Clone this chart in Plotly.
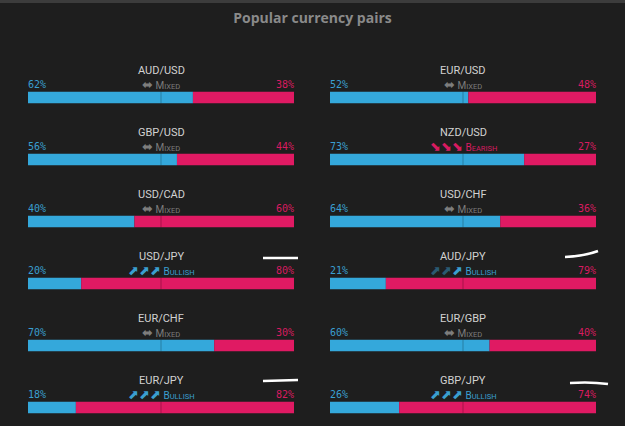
import plotly.graph_objects as go

W, H = 625, 426

pairs_left = ["AUD/USD", "GBP/USD", "USD/CAD", "USD/JPY", "EUR/CHF", "EUR/JPY"]
long_left = [62, 56, 40, 20, 70, 18]
sent_left = ["Mixed", "Mixed", "Mixed", "Bullish", "Mixed", "Bullish"]
strength_left = [0, 0, 0, 3, 0, 3]

pairs_right = ["EUR/USD", "NZD/USD", "USD/CHF", "AUD/JPY", "EUR/GBP", "GBP/JPY"]
long_right = [52, 73, 64, 21, 60, 26]
sent_right = ["Mixed", "Bearish", "Mixed", "Bullish", "Mixed", "Bullish"]
strength_right = [0, 3, 0, 1, 0, 3]

BLUE = "#34a8db"
PINK = "#e01a63"
BLUE_TXT = "#3a9fd0"
PINK_TXT = "#d81b60"
BG = "#1e1e1e"
ROW = 62.0
BW = 11.5 / ROW
FONT = "Roboto"

fig = go.Figure()
annotations = []
shapes = []

SMALL = 'style="font-size:7.5px"'
ARR = 'style="font-size:13px"'


def sentiment_text(s, strength):
    if s == "Mixed":
        return f'<span {ARR}>⬌</span> M<span {SMALL}>IXED</span>', "#7d7d7d"
    if s == "Bullish":
        dim = 3 - strength
        arr = ""
        if dim:
            arr += f'<span style="font-size:13px;color:#2a5a72">{"⬈" * dim}</span>'
        if strength:
            arr += f'<span {ARR}>{"⬈" * strength}</span>'
        return f'{arr} B<span {SMALL}>ULLISH</span>', BLUE_TXT
    arr = f'<span {ARR}>{"⬊" * strength}</span>'
    return f'{arr} B<span {SMALL}>EARISH</span>', PINK_TXT


for col, (pairs, longs, sents, strs) in enumerate([
    (pairs_left, long_left, sent_left, strength_left),
    (pairs_right, long_right, sent_right, strength_right),
]):
    xa = "x" if col == 0 else "x2"
    rows = list(range(len(pairs)))
    shorts = [100 - v for v in longs]
    fig.add_trace(go.Bar(x=longs, y=rows, base=[0] * len(rows), orientation="h",
                         marker=dict(color=BLUE, line=dict(width=0)), width=BW,
                         xaxis=xa, yaxis="y", hoverinfo="skip", showlegend=False))
    fig.add_trace(go.Bar(x=shorts, y=rows, base=longs, orientation="h",
                         marker=dict(color=PINK, line=dict(width=0)), width=BW,
                         xaxis=xa, yaxis="y", hoverinfo="skip", showlegend=False))
    for i, (p, l, s, st) in enumerate(zip(pairs, longs, sents, strs)):
        annotations.append(dict(x=50, y=i - 27.5 / ROW, xref=xa, yref="y", text=p,
                                showarrow=False, xanchor="center", yanchor="middle",
                                font=dict(family=FONT, size=11, color="#d2d2d2")))
        annotations.append(dict(x=0, y=i - 13.5 / ROW, xref=xa, yref="y", text=f"{l}%",
                                showarrow=False, xanchor="left", yanchor="middle", xshift=-2,
                                font=dict(family="DejaVu Sans Mono", size=10, color=BLUE_TXT)))
        annotations.append(dict(x=100, y=i - 13.5 / ROW, xref=xa, yref="y", text=f"{100 - l}%",
                                showarrow=False, xanchor="right", yanchor="middle", xshift=2,
                                font=dict(family="DejaVu Sans Mono", size=10, color=PINK_TXT)))
        txt, colr = sentiment_text(s, st)
        annotations.append(dict(x=50, y=i - 13.5 / ROW, xref=xa, yref="y", text=txt,
                                showarrow=False, xanchor="center", yanchor="middle",
                                font=dict(family=FONT, size=10, color=colr)))
        shapes.append(dict(type="line", xref=xa, yref="y", x0=50, x1=50,
                           y0=i - BW / 2, y1=i + BW / 2,
                           line=dict(color="rgba(0,0,0,0.25)", width=1)))

# top strip
shapes.append(dict(type="rect", xref="paper", yref="paper", x0=0, x1=1,
                   y0=1 - 3 / H, y1=1, fillcolor="#3c3c3c", line=dict(width=0), layer="above"))


def P(px, py):
    return f"{px / W:.4f},{1 - py / H:.4f}"


scribbles = [
    f"M {P(263, 258)} L {P(298, 258)}",
    f"M {P(565, 257)} Q {P(585, 256)} {P(598, 251)}",
    f"M {P(263, 381)} L {P(298, 380)}",
    f"M {P(570, 383)} Q {P(590, 381.5)} {P(608, 384)}",
]
for pth in scribbles:
    shapes.append(dict(type="path", xref="paper", yref="paper", path=pth,
                       line=dict(color="white", width=2.6), layer="above"))

y_top = (0 - 97.5) / ROW
y_bot = (H - 97.5) / ROW

fig.update_layout(
    width=W, height=H,
    margin=dict(l=0, r=0, t=0, b=0),
    paper_bgcolor=BG, plot_bgcolor=BG,
    barmode="overlay",
    title=dict(text="<b>Popular currency pairs</b>", x=0.5, xanchor="center",
               y=1 - 18 / H, yanchor="middle",
               font=dict(family="Open Sans", size=14, color="#8a8a8a")),
    xaxis=dict(domain=[28 / W, 294 / W], range=[0, 100], visible=False, fixedrange=True),
    xaxis2=dict(domain=[330 / W, 596 / W], range=[0, 100], visible=False, fixedrange=True),
    yaxis=dict(domain=[0, 1], range=[y_bot, y_top], visible=False, fixedrange=True),
    annotations=annotations,
    shapes=shapes,
)

fig.write_html("out.html", config={"displayModeBar": False})
